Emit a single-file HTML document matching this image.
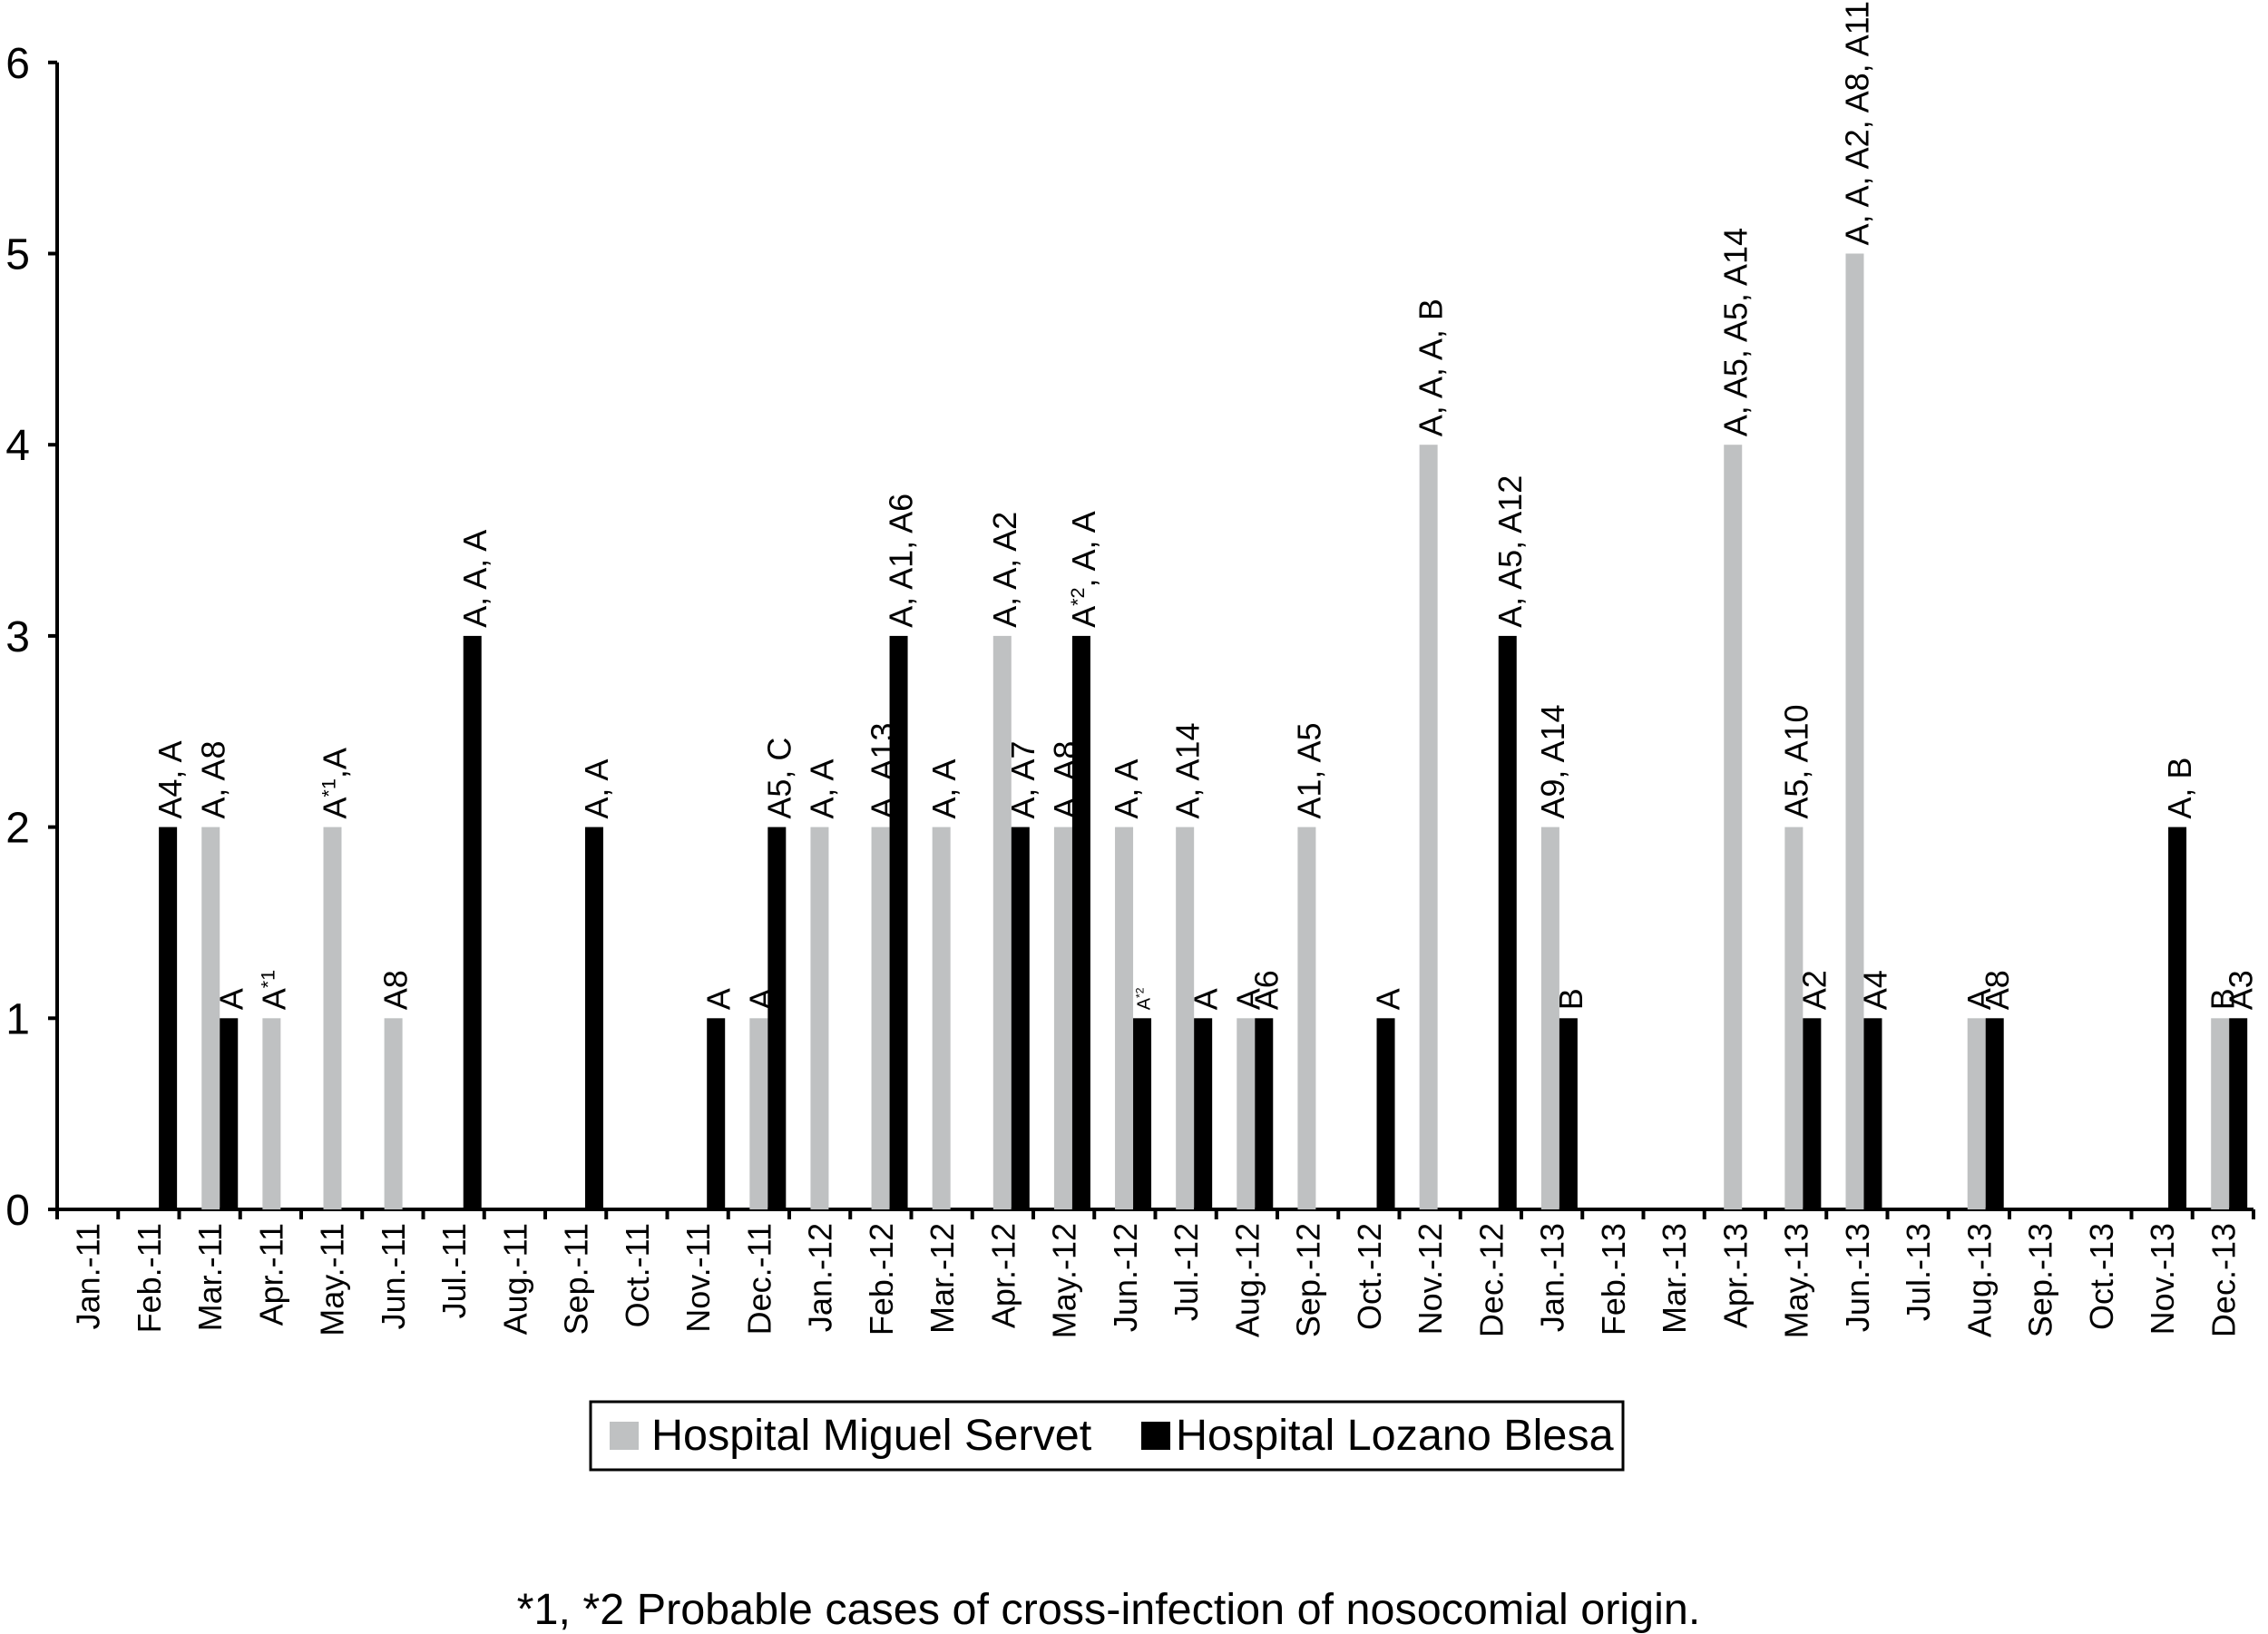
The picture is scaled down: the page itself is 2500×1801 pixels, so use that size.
<!DOCTYPE html>
<html><head><meta charset="utf-8"><style>
html,body{margin:0;padding:0;background:#fff}
svg{display:block;font-family:"Liberation Sans",Arial,sans-serif}
</style></head><body>
<svg id="chart" width="2500" height="1801" viewBox="0 0 2500 1801" xmlns="http://www.w3.org/2000/svg">
<g id="axes"></g>
<g id="bars"></g>
<g id="labels"></g>
<g>
<rect x="651" y="1545" width="1138" height="75" fill="#fff" stroke="#000" stroke-width="3"/>
<rect x="672" y="1567" width="32" height="31" fill="#bfc1c2"/>
<text x="718" y="1598" font-size="48.5">Hospital Miguel Servet</text>
<rect x="1258" y="1567" width="32" height="31" fill="#000"/>
<text x="1296" y="1598" font-size="48.5">Hospital Lozano Blesa</text>
</g>
<text x="1222" y="1790" font-size="48.5" text-anchor="middle">*1, *2 Probable cases of cross-infection of nosocomial origin.</text>
</svg>
<script>
const categories = ["Jan.-11","Feb.-11","Mar.-11","Apr.-11","May.-11","Jun.-11","Jul.-11","Aug.-11","Sep.-11","Oct.-11","Nov.-11","Dec.-11","Jan.-12","Feb.-12","Mar.-12","Apr.-12","May.-12","Jun.-12","Jul.-12","Aug.-12","Sep.-12","Oct.-12","Nov.-12","Dec.-12","Jan.-13","Feb.-13","Mar.-13","Apr.-13","May.-13","Jun.-13","Jul.-13","Aug.-13","Sep.-13","Oct.-13","Nov.-13","Dec.-13"];
const miguelServet = [0,0,2,1,2,1,0,0,0,0,0,1,2,2,2,3,2,2,2,1,2,0,4,0,2,0,0,4,2,5,0,1,0,0,0,1];
const lozanoBlesa = [0,2,1,0,0,0,3,0,2,0,1,2,0,3,0,2,3,1,1,1,0,1,0,3,1,0,0,0,1,1,0,1,0,0,2,1];
const miguelLabels = ["","","A, A8","A^*1","A^*1^,A","A8","","","","","","A","A, A","A, A13","A, A","A, A, A2","A, A8","A, A","A, A14","A","A1, A5","","A, A, A, B","","A9, A14","","","A, A5, A5, A14","A5, A10","A, A, A2, A8, A11","","A","","","","B"];
const lozanoLabels = ["","A4, A","A","","","","A, A, A","","A, A","","A","A5, C","","A, A1, A6","","A, A7","A^*2^, A, A","a^*2","A","A6","","A","","A, A5, A12","B","","","","A2","A4","","A8","","","A, B","A3"];
const yTicks = [0,1,2,3,4,5,6];

const NS="http://www.w3.org/2000/svg";
const X0=63, STEP=67.25, Y0=1333, UNIT=210.7, BAR0=108, BSTEP=67.12, BW=20;
function yScale(v){return Y0 - v*UNIT;}
function tickX(i){return X0 + i*STEP;}
function catX(i){return X0 + (i+0.5)*STEP;}
function pairX(i){return BAR0 + i*BSTEP;}
function mk(tag,attrs,parent){const e=document.createElementNS(NS,tag);for(const k in attrs)e.setAttribute(k,attrs[k]);parent.appendChild(e);return e;}

const axes=document.getElementById('axes');
let e=mk('line',{x1:X0,y1:yScale(6),x2:X0,y2:Y0,stroke:'#000','stroke-width':4},axes);


e=mk('line',{x1:53,y1:Y0,x2:tickX(categories.length),y2:Y0,stroke:'#000','stroke-width':4},axes);


yTicks.forEach(t=>{
  const y=yScale(t);
  let l=mk('line',{x1:53,y1:y,x2:X0,y2:y,stroke:'#000','stroke-width':4},axes);
  
  
  let tx=mk('text',{x:33,y:y+17,'font-size':48,'text-anchor':'end'},axes);
  tx.textContent=t;
  
  
});
for(let i=0;i<=categories.length;i++){
  let l=mk('line',{x1:tickX(i),y1:Y0,x2:tickX(i),y2:Y0+11,stroke:'#000','stroke-width':4},axes);
  
  
}
categories.forEach((c,i)=>{
  const x=catX(i)+13, y=1348;
  let tx=mk('text',{x:x,y:y,'font-size':36,'text-anchor':'end',transform:`rotate(-90 ${x} ${y})`},axes);
  tx.textContent=c;
  
  
});

const bars=document.getElementById('bars'), labels=document.getElementById('labels');
function addLabel(str,cx,v){
  if(!str) return;
  let small=false;
  if(str[0]==='a'){small=true;str='A'+str.slice(1);}
  const fs=small?20:36;
  const x=cx+fs*0.42, y=yScale(v)-9;
  const t=mk('text',{x:x,y:y,'font-size':fs,transform:`rotate(-90 ${x} ${y})`},labels);
  
  
  const parts=str.split('^');
  parts.forEach((p,k)=>{
    if(!p) return;
    const s=document.createElementNS(NS,'tspan');
    if(k%2===1){s.setAttribute('baseline-shift','super');s.setAttribute('font-size',fs*0.6);}
    s.textContent=p;t.appendChild(s);
  });
}
categories.forEach((c,i)=>{
  const px=pairX(i);
  if(miguelServet[i]>0){
    const r=mk('rect',{x:px-BW,y:yScale(miguelServet[i]),width:BW,height:miguelServet[i]*UNIT,fill:'#bfc1c2'},bars);
    
    
    addLabel(miguelLabels[i],px-BW/2,miguelServet[i]);
  }
  if(lozanoBlesa[i]>0){
    const r=mk('rect',{x:px,y:yScale(lozanoBlesa[i]),width:BW,height:lozanoBlesa[i]*UNIT,fill:'#000'},bars);
    
    
    addLabel(lozanoLabels[i],px+BW/2,lozanoBlesa[i]);
  }
});
</script>
</body></html>
